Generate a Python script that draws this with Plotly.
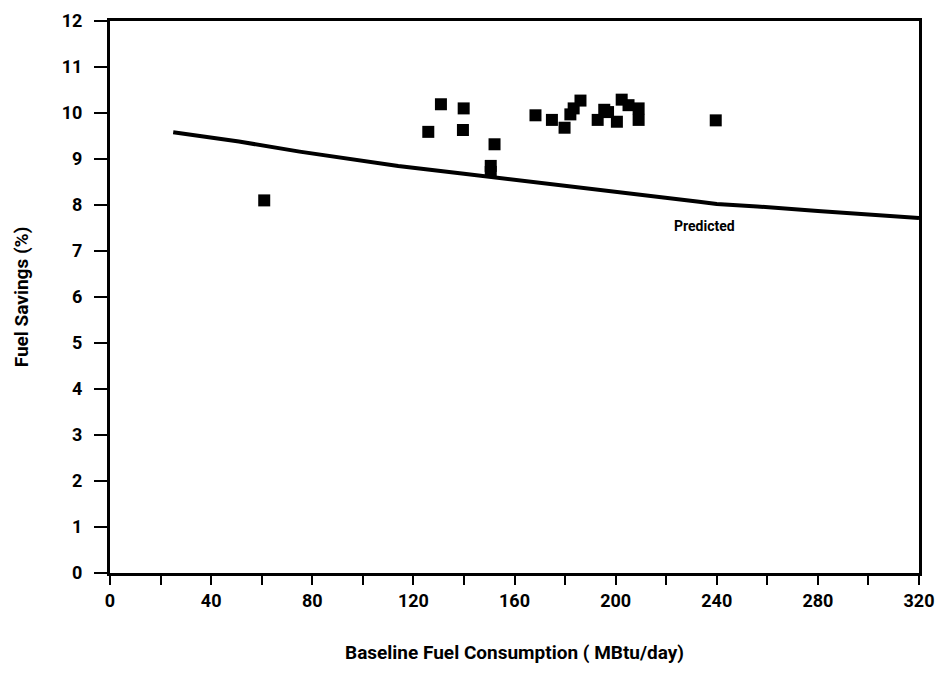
import plotly.graph_objects as go

# Observed data points (Baseline fuel consumption MBtu/day, Fuel savings %)
obs_x = [61, 125.9, 130.9, 139.9, 139.6, 152.1, 150.6, 150.6, 168.3, 174.8,
         179.8, 182.1, 183.4, 186.1, 192.9, 195.5, 197.0, 200.5, 202.4, 205.1,
         209.1, 209.1, 239.6]
obs_y = [8.1, 9.59, 10.19, 10.1, 9.63, 9.32, 8.72, 8.85, 9.95, 9.85,
         9.68, 9.97, 10.1, 10.27, 9.85, 10.07, 10.02, 9.81, 10.29, 10.17,
         10.1, 9.85, 9.84]

# Predicted curve
pred_x = [25, 51, 75, 100, 114, 140, 162, 200, 233, 240, 256, 280, 320]
pred_y = [9.58, 9.38, 9.16, 8.95, 8.85, 8.68, 8.54, 8.28, 8.07, 8.02, 7.97, 7.87, 7.72]

label_text = "Predicted"
label_pos = (235, 7.55)

x_title = "Baseline Fuel Consumption ( MBtu/day)"
y_title = "Fuel Savings (%)"

FONT = "Roboto"

fig = go.Figure()
fig.add_trace(go.Scatter(x=pred_x, y=pred_y, mode="lines",
                         line=dict(color="black", width=4), showlegend=False,
                         hoverinfo="skip"))
fig.add_trace(go.Scatter(x=obs_x, y=obs_y, mode="markers",
                         marker=dict(symbol="square", size=12, color="black"),
                         showlegend=False))

fig.add_annotation(x=label_pos[0], y=label_pos[1], text=label_text, showarrow=False,
                   font=dict(family=FONT, size=14, color="black", weight="bold"))

fig.update_xaxes(range=[0, 320], tickmode="linear", tick0=0, dtick=40,
                 ticks="outside", ticklen=9, tickwidth=2, tickcolor="black",
                 minor=dict(dtick=20, ticks="outside", ticklen=9, tickwidth=2, tickcolor="black"),
                 showline=True, linecolor="black", linewidth=3, mirror=True,
                 showgrid=False, zeroline=False, automargin=False,
                 tickfont=dict(family=FONT, size=18, color="black", weight="bold"),
                 title=dict(text=x_title, standoff=37,
                            font=dict(family=FONT, size=19, color="black", weight="bold")))
fig.update_yaxes(range=[0, 12], tickmode="linear", tick0=0, dtick=1,
                 ticks="outside", ticklen=13, tickwidth=2, tickcolor="black",
                 ticklabelstandoff=8,
                 showline=True, linecolor="black", linewidth=3, mirror=True,
                 showgrid=False, zeroline=False, automargin=False,
                 tickfont=dict(family=FONT, size=18, color="black", weight="bold"),
                 title=dict(text=y_title, standoff=29,
                            font=dict(family=FONT, size=19, color="black", weight="bold")))

fig.update_layout(width=947, height=675, plot_bgcolor="white", paper_bgcolor="white",
                  margin=dict(l=102, r=36, t=13, b=110, autoexpand=False))

fig.write_html("out.html")
